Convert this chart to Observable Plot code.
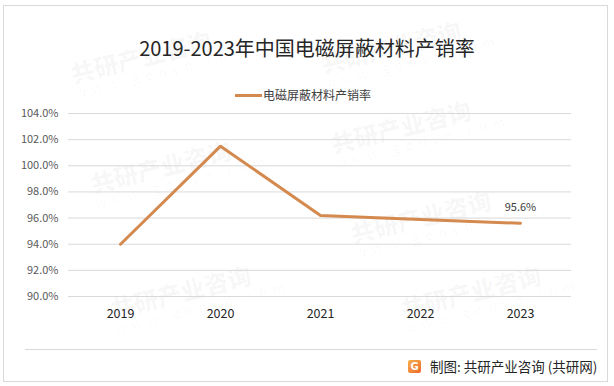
<!DOCTYPE html>
<html>
<head>
<meta charset="utf-8">
<script src="https://cdn.jsdelivr.net/npm/d3@7"></script>
<script src="https://cdn.jsdelivr.net/npm/@observablehq/plot@0.6"></script>
<style>
  html, body { margin: 0; padding: 0; background: #fff; }
  #wrap { position: relative; width: 614px; height: 386px; overflow: hidden; background: #fff;
          font-family: "Noto Sans CJK SC", "Noto Sans", sans-serif; }
  #frame { position: absolute; left: 3px; top: 5px; width: 605px; height: 377px; border: 1px solid #d9d9d9; box-sizing: border-box; }
  #title { position: absolute; left: 0; width: 614px; top: 34px; text-align: center; font-size: 20px; color: #262626; line-height: 28px; }
  #legend { position: absolute; left: 235px; top: 87px; font-size: 12px; color: #404040; line-height: 16px; display: flex; align-items: center; }
  #legend .sw { width: 27px; height: 3px; background: #D4894E; margin-right: 1px; }
  #chart { position: absolute; left: 0; top: 100px; }
  #sep { position: absolute; left: 25px; top: 349px; width: 572px; height: 1px; background: #d9d9d9; }
  #footer { position: absolute; left: 408px; top: 357px; display: flex; align-items: center; font-size: 13.5px; color: #262626; line-height: 18px; }
  #logo { width: 13px; height: 13px; border-radius: 2px; background: linear-gradient(135deg, #f6b04a, #ee6a2c); color: #fff; font-size: 10px; font-weight: 700; line-height: 13px; text-align: center; margin-right: 9px; font-family: "DejaVu Sans", sans-serif; }
  .wm { position: absolute; color: rgba(0,0,0,0.035); font-size: 24px; font-weight: 900; transform: rotate(-14deg); white-space: nowrap; line-height: 24px; }
  .wm span { display: block; font-size: 13px; font-weight: 400; letter-spacing: 6px; line-height: 15px; }
</style>
</head>
<body>
<div id="wrap">
  <div id="frame"></div>
  <div class="wm" style="left:70px;top:40px;">共研产业咨询<span>www.gonyn.com</span></div>
  <div class="wm" style="left:320px;top:30px;">共研产业咨询<span>www.gonyn.com</span></div>
  <div class="wm" style="left:330px;top:110px;">共研产业咨询<span>www.gonyn.com</span></div>
  <div class="wm" style="left:90px;top:150px;">共研产业咨询<span>www.gonyn.com</span></div>
  <div class="wm" style="left:350px;top:200px;">共研产业咨询<span>www.gonyn.com</span></div>
  <div class="wm" style="left:110px;top:275px;">共研产业咨询<span>www.gonyn.com</span></div>
  <div class="wm" style="left:400px;top:275px;">共研产业咨询<span>www.gonyn.com</span></div>
  <div id="title">2019-2023年中国电磁屏蔽材料产销率</div>
  <div id="legend"><div class="sw"></div><span id="legendText"></span></div>
  <div id="chart"></div>
  <div id="sep"></div>
  <div id="footer"><div id="logo">G</div><span>制图: 共研产业咨询 (共研网)</span></div>
</div>
<script>
const seriesName = "电磁屏蔽材料产销率";
const years = ["2019", "2020", "2021", "2022", "2023"];
const rates = [94.0, 101.5, 96.2, 95.9, 95.6];
const yTicks = [90, 92, 94, 96, 98, 100, 102, 104];
const labelYears = ["2023"];

document.getElementById("legendText").textContent = seriesName;

const data = years.map((y, i) => ({ year: y, rate: rates[i] }));
const labelData = data.filter(d => labelYears.includes(d.year));
const color = "#D4894E";

const chart = Plot.plot({
  width: 614,
  height: 240,
  marginTop: 13,
  marginBottom: 44,
  marginLeft: 68,
  marginRight: 43,
  style: { background: "transparent", fontFamily: "'Noto Sans CJK SC', 'Noto Sans', sans-serif", overflow: "visible" },
  x: { type: "point", domain: years, padding: 0.5, label: null },
  y: { domain: [90, 104], label: null },
  marks: [
    Plot.gridY(yTicks, { stroke: "#d9d9d9", strokeOpacity: 1, strokeWidth: 1 }),
    Plot.axisY(yTicks, { tickSize: 0, tickPadding: 10, tickFormat: d => d.toFixed(1) + "%", fontSize: 11, fill: "#595959", label: null }),
    Plot.axisX({ tickSize: 0, tickPadding: 13, fontSize: 12.5, fill: "#262626", label: null }),
    Plot.line(data, { x: "year", y: "rate", stroke: color, strokeWidth: 3, strokeLinejoin: "miter" }),
    Plot.text(labelData, { x: "year", y: "rate", text: d => d.rate.toFixed(1) + "%", dy: -16, fontSize: 11, fill: "#404040" })
  ]
});
document.getElementById("chart").appendChild(chart);
</script>
</body>
</html>
